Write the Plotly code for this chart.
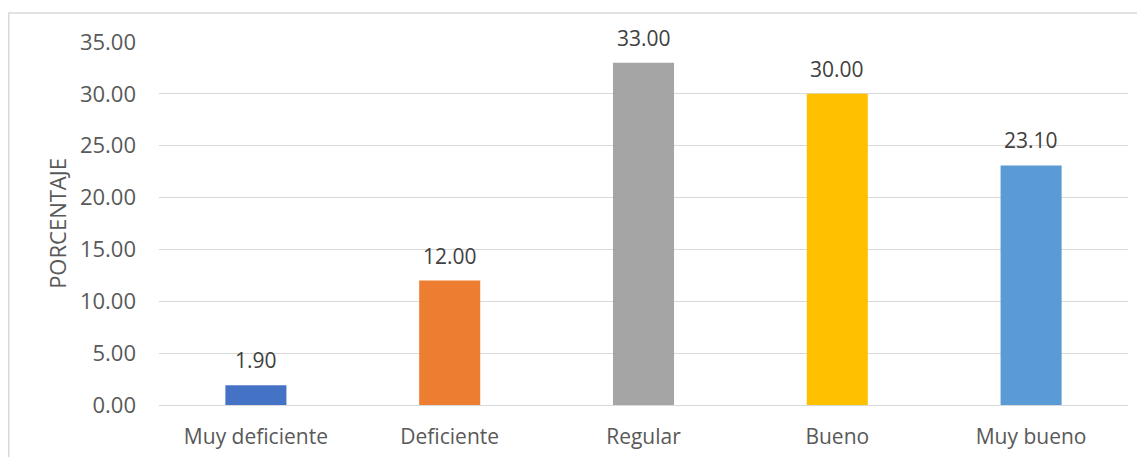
import plotly.graph_objects as go

categories = ["Muy deficiente", "Deficiente", "Regular", "Bueno", "Muy bueno"]
values = [1.90, 12.00, 33.00, 30.00, 23.10]
colors = ["#4472C4", "#ED7D31", "#A5A5A5", "#FFC000", "#5B9BD5"]
y_ticks = [0, 5, 10, 15, 20, 25, 30, 35]

# page has an 8px body margin, so the figure is drawn 8px smaller
W, H = 1137, 449
L, R, T, B = 151, 17, 34, 52

fig = go.Figure()
fig.add_trace(go.Bar(x=categories, y=values, marker=dict(color=colors, line=dict(width=0)),
                     hoverinfo="x+y"))

for c, v in zip(categories, values):
    fig.add_annotation(x=c, y=v, text=f"{v:.2f}", showarrow=False, yanchor="bottom",
                       yshift=9, font=dict(family="Open Sans", size=21, color="#404040"))

pw = W - L - R
ph = H - T - B
fig.add_shape(type="rect", xref="paper", yref="paper",
              x0=(0.75 - L) / pw, x1=(W + 5 - L) / pw,
              y0=-(H + 5 - T - ph) / ph, y1=1 + (T - 5) / ph,
              line=dict(color="#d9d9d9", width=1.5), layer="below")

fig.update_layout(
    width=W, height=H,
    margin=dict(l=L, r=R, t=T, b=B, autoexpand=False),
    paper_bgcolor="white", plot_bgcolor="white",
    bargap=0.685,
    showlegend=False,
    font=dict(family="Open Sans", size=21, color="#595959"),
    xaxis=dict(showline=False, ticks="", ticklabelstandoff=17, automargin=False,
               tickfont=dict(size=21, color="#595959")),
    yaxis=dict(range=[0, 35], tickvals=y_ticks, tickformat=".2f", automargin=False,
               showgrid=True, gridcolor="#d9d9d9", gridwidth=1,
               zeroline=True, zerolinecolor="#d9d9d9", zerolinewidth=1,
               showline=False, ticks="", ticklabelstandoff=22,
               tickfont=dict(size=22, color="#595959"),
               title=dict(text="PORCENTAJE", font=dict(size=22, color="#595959"), standoff=7)),
)

fig.write_html("out.html")
